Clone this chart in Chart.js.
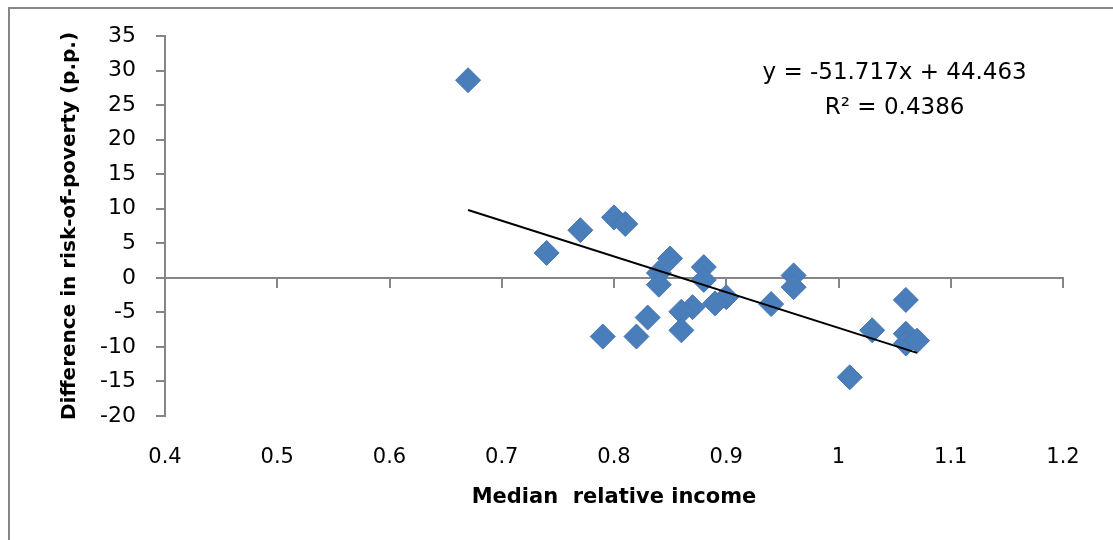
<!DOCTYPE html>
<html>
<head>
<meta charset="utf-8">
<script src="https://cdn.jsdelivr.net/npm/chart.js@4"></script>
<style>
  html, body { margin: 0; padding: 0; background: #ffffff; }
  #wrap { width: 1113px; height: 540px; position: relative; }
</style>
</head>
<body>
<div id="wrap"><canvas id="c" width="1113" height="540"></canvas></div>
<script>
// ---- Data ----
const incomeX = [0.67, 0.74, 0.77, 0.80, 0.81, 0.85, 0.84, 0.84, 0.88, 0.88, 0.90, 0.89, 0.87, 0.86, 0.83, 0.86, 0.79, 0.82, 0.94, 0.96, 0.96, 1.01, 1.03, 1.06, 1.06, 1.06, 1.07];
const povertyDiff = [28.6, 3.6, 6.9, 8.75, 7.8, 2.8, 0.7, -1.0, 1.55, -0.3, -2.8, -3.7, -4.25, -4.9, -5.75, -7.6, -8.5, -8.5, -3.8, 0.35, -1.35, -14.4, -7.6, -3.2, -8.1, -9.5, -9.1];
const trendX = [0.67, 1.07];
const trendY = [9.81, -10.87];
const equationText = 'y = -51.717x + 44.463';
const r2Text = 'R² = 0.4386';
const xTicks = [0.4, 0.5, 0.6, 0.7, 0.8, 0.9, 1, 1.1, 1.2];
const yTicks = [-20, -15, -10, -5, 0, 5, 10, 15, 20, 25, 30, 35];

const axisGray = '#868686';
const markerBlue = '#4a7ebb';

const scatterPts = incomeX.map((x, i) => ({ x: x, y: povertyDiff[i] }));
const trendPts = trendX.map((x, i) => ({ x: x, y: trendY[i] }));

const framePlugin = {
  id: 'frame',
  beforeDraw(chart) {
    const ctx = chart.ctx;
    ctx.save();
    ctx.fillStyle = '#ffffff';
    ctx.fillRect(0, 0, chart.width, chart.height);
    ctx.strokeStyle = axisGray;
    ctx.lineWidth = 2;
    ctx.strokeRect(9, 8, chart.width + 20, chart.height + 20);
    ctx.restore();
  }
};

const equationPlugin = {
  id: 'equation',
  afterDraw(chart) {
    const ctx = chart.ctx;
    const xs = chart.scales.x, ys = chart.scales.y;
    ctx.save();
    ctx.fillStyle = '#000000';
    ctx.font = '23px "DejaVu Sans"';
    ctx.textAlign = 'center';
    ctx.textBaseline = 'middle';
    ctx.fillText(equationText, xs.getPixelForValue(1.05), ys.getPixelForValue(29.6));
    ctx.fillText(r2Text, xs.getPixelForValue(1.05), ys.getPixelForValue(24.6));
    ctx.restore();
  }
};

new Chart(document.getElementById('c'), {
  type: 'scatter',
  data: {
    datasets: [
      {
        type: 'line',
        label: 'Trend',
        data: trendPts,
        borderColor: '#000000',
        borderWidth: 2,
        pointRadius: 0,
        fill: false,
        tension: 0
      },
      {
        label: 'Countries',
        data: scatterPts,
        pointStyle: 'rectRot',
        pointRadius: 12.5,
        pointHoverRadius: 12.5,
        backgroundColor: markerBlue,
        borderColor: '#4677b3',
        borderWidth: 1
      }
    ]
  },
  options: {
    responsive: false,
    animation: false,
    events: [],
    layout: { padding: { left: 0, right: 50, top: 36, bottom: 0 } },
    plugins: {
      legend: { display: false },
      tooltip: { enabled: false }
    },
    scales: {
      x: {
        type: 'linear',
        position: { y: 0 },
        min: 0.4, max: 1.2,
        afterBuildTicks(scale) { scale.ticks = xTicks.map(v => ({ value: v })); },
        ticks: { display: false },
        grid: { display: true, drawOnChartArea: false, drawTicks: true, tickLength: 9, color: axisGray, lineWidth: 2 },
        border: { display: true, color: axisGray, width: 2 }
      },
      x2: {
        type: 'linear',
        axis: 'x',
        position: 'bottom',
        min: 0.4, max: 1.2,
        afterBuildTicks(scale) { scale.ticks = xTicks.map(v => ({ value: v })); },
        afterFit(scale) { scale.height = 124; },
        ticks: {
          color: '#000000',
          padding: 29,
          font: { family: 'DejaVu Sans', size: 21 },
          callback: v => String(v)
        },
        grid: { display: false, drawTicks: false },
        border: { display: false },
        title: {
          display: true,
          text: 'Median  relative income',
          color: '#000000',
          font: { family: 'DejaVu Sans', size: 21, weight: 'bold' },
          padding: { top: 0, bottom: 30 }
        }
      },
      y: {
        type: 'linear',
        position: 'left',
        min: -20, max: 35,
        afterBuildTicks(scale) { scale.ticks = yTicks.map(v => ({ value: v })); },
        afterFit(scale) { scale.width = 165; },
        ticks: {
          color: '#000000',
          padding: 20,
          font: { family: 'DejaVu Sans', size: 22 },
          callback: v => String(v)
        },
        grid: { display: true, drawOnChartArea: false, drawTicks: true, tickLength: 9, color: axisGray, lineWidth: 2 },
        border: { display: true, color: axisGray, width: 2 },
        title: {
          display: true,
          text: 'Difference in risk-of-poverty (p.p.)',
          color: '#000000',
          font: { family: 'DejaVu Sans', size: 20, weight: 'bold' },
          padding: { top: 58, bottom: 0 }
        }
      }
    }
  },
  plugins: [framePlugin, equationPlugin]
});
</script>
</body>
</html>
